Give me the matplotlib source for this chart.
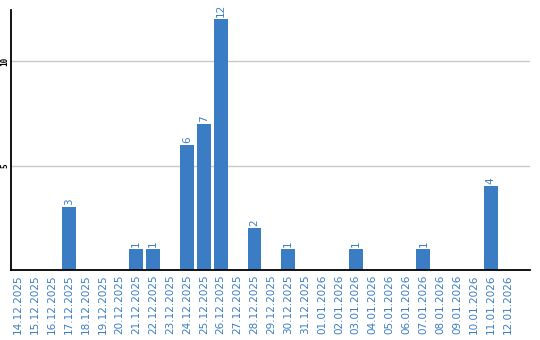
import matplotlib
matplotlib.use("Agg")
from matplotlib import pyplot as plt
import numpy as np

dates = ['14.12.2025', '15.12.2025', '16.12.2025', '17.12.2025', '18.12.2025',
         '19.12.2025', '20.12.2025', '21.12.2025', '22.12.2025', '23.12.2025',
         '24.12.2025', '25.12.2025', '26.12.2025', '27.12.2025', '28.12.2025',
         '29.12.2025', '30.12.2025', '31.12.2025', '01.01.2026', '02.01.2026',
         '03.01.2026', '04.01.2026', '05.01.2026', '06.01.2026', '07.01.2026',
         '08.01.2026', '09.01.2026', '10.01.2026', '11.01.2026', '12.01.2026']
counts = [0, 0, 0, 3, 0, 0, 0, 1, 1, 0, 6, 7, 12, 0, 2,
          0, 1, 0, 0, 0, 1, 0, 0, 0, 1, 0, 0, 0, 4, 0]

blue = '#3b7dc4'

fig = plt.figure(figsize=(5.4, 3.4), dpi=100)
ax = fig.add_axes([0.021, 0.206, 0.96, 0.765])

x = np.arange(len(dates))
ax.bar(x, counts, width=0.82, color=blue, zorder=2)

for xi, v in zip(x, counts):
    if v > 0:
        ax.text(xi, v + 0.1, str(v), rotation=90, ha='center', va='bottom',
                color=blue, fontsize=7.5)

ax.set_xlim(-0.4, 30.3)
ax.set_ylim(0, 12.45)
ax.set_yticks([5, 10])
ax.set_yticklabels(['5', '10'], rotation=90, va='center', fontsize=5.5,
                   family='DejaVu Sans Mono', fontweight='bold')
ax.set_xticks(x)
ax.set_xticklabels(dates, rotation=90, color=blue, fontsize=7.5)
ax.tick_params(axis='y', length=0, pad=1.5)
ax.tick_params(axis='x', length=0, pad=3)
ax.grid(axis='y', color='#c8c8c8', linewidth=1, zorder=0)

for s in ['top', 'right']:
    ax.spines[s].set_visible(False)
ax.spines['left'].set_linewidth(1.3)
ax.spines['bottom'].set_linewidth(1.3)

plt.savefig('out.png', dpi=100)
